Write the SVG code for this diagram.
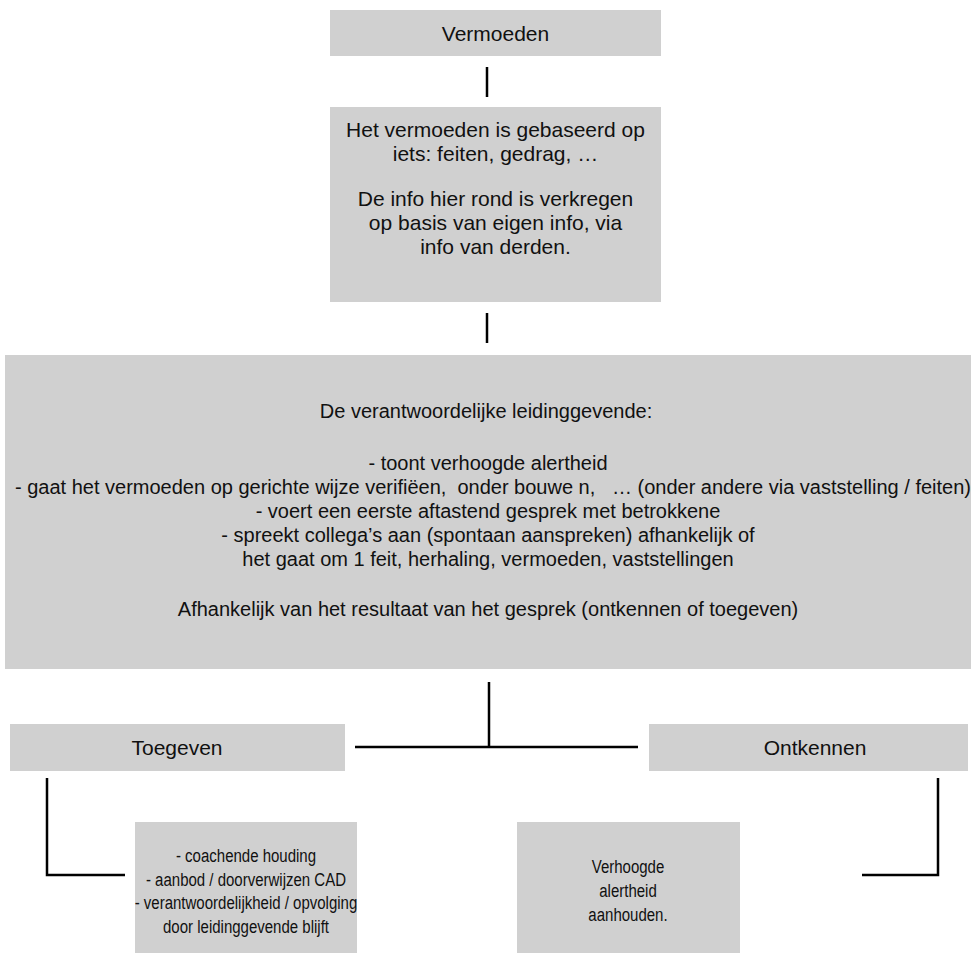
<svg xmlns="http://www.w3.org/2000/svg" width="971" height="958" viewBox="0 0 971 958">
<style>
.box{fill:#d0d0d0;stroke:none}
.t{font-family:"Liberation Sans",Arial,sans-serif;fill:#111;text-anchor:middle}
.t21{font-size:21px}
.t20{font-size:20px}
.t19{font-size:19px}
.ln{stroke:#000;stroke-width:2.5;fill:none}
</style>
<rect width="971" height="958" fill="#fff"/>
<g id="connectors">
<line class="ln" x1="487" y1="67" x2="487" y2="97"/>
<line class="ln" x1="487" y1="313" x2="487" y2="343"/>
<line class="ln" x1="489" y1="682" x2="489" y2="747"/>
<line class="ln" x1="355" y1="747" x2="638" y2="747"/>
<polyline class="ln" points="47,778 47,875 125,875"/>
<polyline class="ln" points="938,778 938,875 862,875"/>
</g>
<g id="vermoeden">
<rect class="box" x="330" y="10" width="331" height="46"/>
<text class="t t21" x="495.5" y="41">Vermoeden</text>
</g>
<g id="basis">
<rect class="box" x="330" y="107" width="331" height="195"/>
<text class="t t21" x="495.5" y="137">Het vermoeden is gebaseerd op</text>
<text class="t t21" x="495.5" y="161">iets: feiten, gedrag, …</text>
<text class="t t21" x="495.5" y="206">De info hier rond is verkregen</text>
<text class="t t21" x="495.5" y="230">op basis van eigen info, via</text>
<text class="t t21" x="495.5" y="254">info van derden.</text>
</g>
<g id="leidinggevende">
<rect class="box" x="5" y="355" width="966" height="314"/>
<text class="t t20" x="486" y="418">De verantwoordelijke leidinggevende:</text>
<text class="t t20" x="488" y="470">- toont verhoogde alertheid</text>
<text class="t t20" x="15" y="494" style="text-anchor:start" textLength="956" lengthAdjust="spacingAndGlyphs" xml:space="preserve">- gaat het vermoeden op gerichte wijze verifiëen,  onder bouwe n,   … (onder andere via vaststelling / feiten)</text>
<text class="t t20" x="488" y="518">- voert een eerste aftastend gesprek met betrokkene</text>
<text class="t t20" x="488" y="542">- spreekt collega’s aan (spontaan aanspreken) afhankelijk of</text>
<text class="t t20" x="488" y="566">het gaat om 1 feit, herhaling, vermoeden, vaststellingen</text>
<text class="t t20" x="488" y="616">Afhankelijk van het resultaat van het gesprek (ontkennen of toegeven)</text>
</g>
<g id="toegeven">
<rect class="box" x="10" y="724" width="335" height="47"/>
<text class="t t21" x="177" y="755">Toegeven</text>
</g>
<g id="ontkennen">
<rect class="box" x="649" y="724" width="319" height="47"/>
<text class="t t21" x="815" y="755">Ontkennen</text>
</g>
<g id="coaching">
<rect class="box" x="135" y="822" width="222" height="131"/>
<g transform="translate(246 0) scale(0.79 1)">
<text class="t t19" x="0" y="862">- coachende houding</text>
<text class="t t19" x="0" y="886">- aanbod / doorverwijzen CAD</text>
<text class="t t19" x="0" y="909">- verantwoordelijkheid / opvolging</text>
<text class="t t19" x="0" y="933">door leidinggevende blijft</text>
</g>
</g>
<g id="alertheid">
<rect class="box" x="517" y="822" width="223" height="131"/>
<g transform="translate(628 0) scale(0.79 1)">
<text class="t t19" x="0" y="873">Verhoogde</text>
<text class="t t19" x="0" y="897">alertheid</text>
<text class="t t19" x="0" y="921">aanhouden.</text>
</g>
</g>
</svg>
